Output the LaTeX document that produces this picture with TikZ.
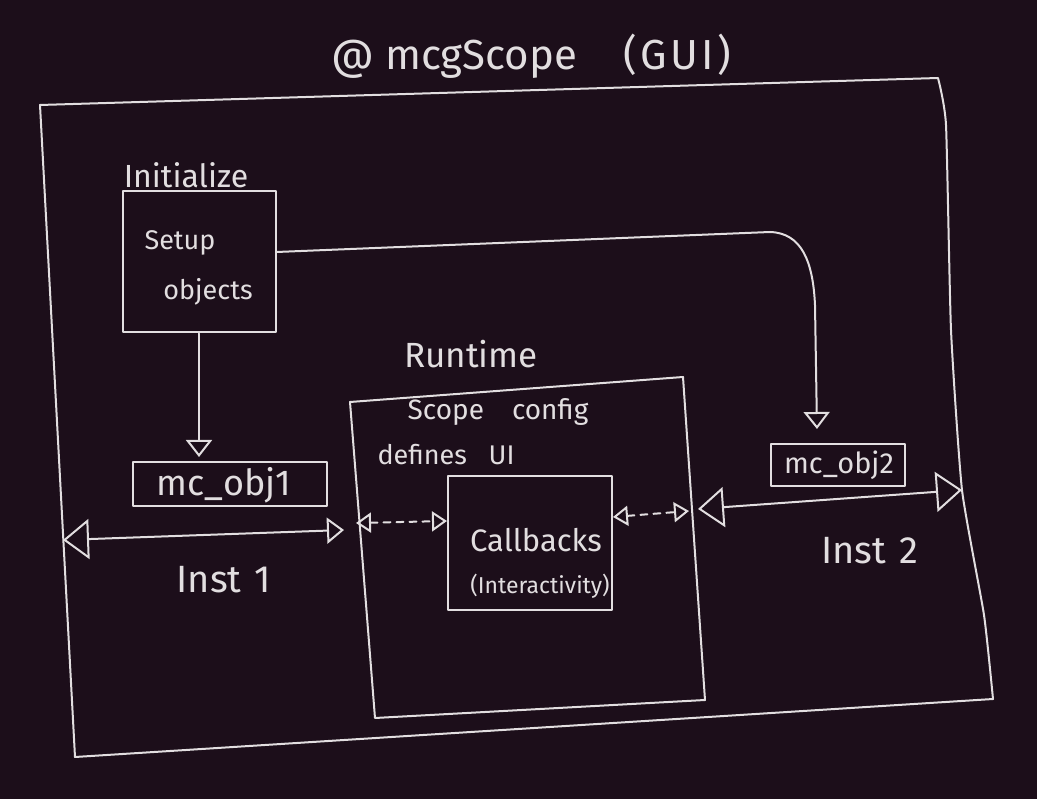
\documentclass[tikz,border=0pt]{standalone}
\usepackage{fontspec}
\setmainfont{Fira Sans}
\usetikzlibrary{arrows.meta}
\definecolor{bg}{RGB}{28,14,26}
\definecolor{ink}{RGB}{226,222,224}
\newcommand\myfs[1]{\fontsize{#1}{#1}\selectfont}
\tikzset{
  stroke/.style={draw=ink, line width=2pt, line cap=round, line join=round},
  boxnode/.style={stroke, rectangle, inner sep=0pt},
  txt/.style={text=ink, inner sep=0pt, font=\myfs{#1}},
  bigtri/.tip={Triangle[open, length=26pt, width=40pt]},
  midtri/.tip={Triangle[open, length=17pt, width=26pt]},
  smtri/.tip={Triangle[open, length=15pt, width=20pt]},
  dsh/.style={dash pattern=on 7pt off 6pt}
}
\begin{document}
\begin{tikzpicture}[x=1pt,y=-1pt]
\fill[bg] (0,0) rectangle (1037,799);
\useasboundingbox (0,0) rectangle (1037,799);

% title
\node[txt=42] (title) at (531,56) {@ mcgScope\hspace{1.1em}(\hspace{0.08em}G\hspace{0.08em}U\hspace{0.08em}I\hspace{0.08em})};

% outer frame
\coordinate (o1) at (40,105);
\coordinate (o2) at (938,78);
\coordinate (o3) at (993,699);
\coordinate (o4) at (75,757);
\draw[stroke] (o1) -- (o2)
  -- plot[smooth, tension=0.3] coordinates {(o2) (946,125) (951,330) (962,490) (984,615) (o3)}
  -- (o4) -- cycle;

% runtime frame
\coordinate (r1) at (350,402);
\coordinate (r2) at (683,377);
\coordinate (r3) at (705,700);
\coordinate (r4) at (375,718);
\draw[stroke] (r1) -- (r2) -- (r3) -- (r4) -- cycle;

% initialize block
\node[txt=32] (initlbl) at (186,175) {Initialize};
\node[boxnode, minimum width=153pt, minimum height=141pt] (setup) at (199,262) {};
\node[txt=27] (setup1) at (180,243) {Setup};
\node[txt=27] (setup2) at (208,292) {objects};

% objects
\node[boxnode, minimum width=194pt, minimum height=44pt] (obj1) at (230,484) {};
\node[txt=36] (obj1t) at (224,485) {mc\_obj1};
\node[boxnode, minimum width=134pt, minimum height=42pt] (obj2) at (838,465) {};
\node[txt=29] (obj2t) at (839,465) {mc\_obj2};

% runtime texts
\node[txt=35] (rtlbl) at (471,354) {Runtime};
\node[txt=28] (sc) at (498,412) {Scope\hspace{1em}config};
\node[txt=27] (dui) at (446,455) {defines\hspace{0.8em}UI};

% callbacks
\node[boxnode, minimum width=164pt, minimum height=134pt] (cb) at (530,543) {};
\node[txt=31] (cbt) at (536,540) {Callbacks};
\node[txt=23] (cbi) at (540,586) {(Interactivity)};

% labels
\node[txt=38] (inst1) at (224,580) {Inst\hspace{0.35em}1};
\node[txt=38] (inst2) at (870,551) {Inst\hspace{0.35em}2};

% connector coordinates on frames
\coordinate (ol) at (63,540);
\coordinate (rlo) at (344,530);
\coordinate (rli) at (356,523);
\coordinate (rri) at (689,511);
\coordinate (rro) at (698,509);
\coordinate (orr) at (962,490);

% connectors
\draw[stroke, -{midtri}] (setup.south) -- ([yshift=4pt]setup.south |- obj1.north);
\draw[stroke, -{midtri}] ([yshift=10pt]setup.east) -- (770,232)
  .. controls (802,233) and (813,262) .. (815,305)
  -- ([xshift=-21pt,yshift=14pt]obj2.north);
\draw[stroke, {bigtri}-{midtri}] (ol) -- (rlo);
\draw[stroke, dsh, {smtri}-{smtri}] (rli) -- ([yshift=22pt]cb.west);
\draw[stroke, dsh, {smtri}-{smtri}] ([yshift=26pt]cb.east) -- (rri);
\draw[stroke, {bigtri}-{bigtri}] (rro) -- (orr);
\end{tikzpicture}
\end{document}
